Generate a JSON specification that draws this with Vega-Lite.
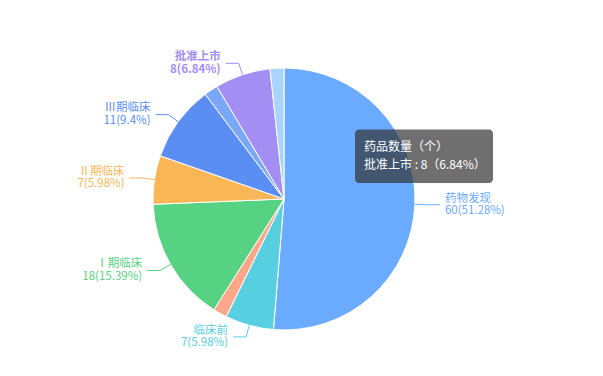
{
  "$schema": "https://vega.github.io/schema/vega-lite/v6.json",
  "width": 603,
  "height": 376,
  "padding": 0,
  "autosize": {"type": "none"},
  "background": "white",
  "config": {"view": {"stroke": null}, "font": "Noto Sans CJK SC"},
  "data": {
    "values": [
      {"idx": 1, "name": "药物发现", "value": 60, "pct": "51.28"},
      {"idx": 2, "name": "临床前", "value": 7, "pct": "5.98"},
      {"idx": 3, "name": "", "value": 2, "pct": "1.71"},
      {"idx": 4, "name": "Ⅰ期临床", "value": 18, "pct": "15.39"},
      {"idx": 5, "name": "Ⅱ期临床", "value": 7, "pct": "5.98"},
      {"idx": 6, "name": "Ⅲ期临床", "value": 11, "pct": "9.4"},
      {"idx": 7, "name": "", "value": 2, "pct": "1.71"},
      {"idx": 8, "name": "批准上市", "value": 8, "pct": "6.84"},
      {"idx": 9, "name": "", "value": 2, "pct": "1.71"}
    ]
  },
  "transform": [
    {"joinaggregate": [{"op": "sum", "field": "value", "as": "total"}]},
    {"window": [{"op": "sum", "field": "value", "as": "cum"}], "sort": [{"field": "idx"}], "frame": [null, 0]},
    {"calculate": "(datum.cum - datum.value/2)/datum.total*2*PI", "as": "mid"},
    {"calculate": "131*sin(datum.mid)", "as": "px"},
    {"calculate": "131*cos(datum.mid)", "as": "py"},
    {"calculate": "143*sin(datum.mid)", "as": "ex"},
    {"calculate": "143*cos(datum.mid)", "as": "ey"},
    {"calculate": "sin(datum.mid) >= 0 ? 1 : -1", "as": "side"},
    {"calculate": "datum.ex + datum.side*13", "as": "tx"},
    {"calculate": "datum.tx + datum.side*5", "as": "lx"},
    {"calculate": "datum.name + '\\n' + datum.value + '(' + datum.pct + '%)'", "as": "label"}
  ],
  "encoding": {
    "color": {
      "field": "idx",
      "type": "nominal",
      "scale": {
        "domain": [1, 2, 3, 4, 5, 6, 7, 8, 9],
        "range": ["#6aaaff", "#58cfe0", "#fda78a", "#57d283", "#f8b657", "#5b8ef2", "#7aa7f7", "#a38ef4", "#a8d4fd"]
      },
      "legend": null
    }
  },
  "layer": [
    {
      "mark": {"type": "arc", "outerRadius": 131, "stroke": "#ffffff", "strokeWidth": 1},
      "encoding": {
        "theta": {"field": "value", "type": "quantitative", "stack": true},
        "order": {"field": "idx", "type": "quantitative"},
        "x": {"datum": 0, "type": "quantitative", "scale": {"domain": [-284, 319], "nice": false, "zero": false}, "axis": null},
        "y": {"datum": 0, "type": "quantitative", "scale": {"domain": [-177, 199], "nice": false, "zero": false}, "axis": null}
      }
    },
    {
      "transform": [{"filter": "datum.name != ''"}],
      "mark": {"type": "rule", "strokeWidth": 1},
      "encoding": {
        "x": {"field": "px", "type": "quantitative"},
        "y": {"field": "py", "type": "quantitative"},
        "x2": {"field": "ex"},
        "y2": {"field": "ey"}
      }
    },
    {
      "transform": [{"filter": "datum.name != ''"}],
      "mark": {"type": "rule", "strokeWidth": 1},
      "encoding": {
        "x": {"field": "ex", "type": "quantitative"},
        "y": {"field": "ey", "type": "quantitative"},
        "x2": {"field": "tx"},
        "y2": {"field": "ey"}
      }
    },
    {
      "transform": [{"filter": "datum.name != '' && datum.side > 0"}],
      "mark": {"type": "text", "align": "left", "baseline": "middle", "dy": -6.25, "fontSize": 11.5, "lineHeight": 12.5, "lineBreak": "\n"},
      "encoding": {
        "x": {"field": "lx", "type": "quantitative"},
        "y": {"field": "ey", "type": "quantitative"},
        "text": {"field": "label"}
      }
    },
    {
      "transform": [{"filter": "datum.name != '' && datum.side < 0 && datum.name != '批准上市'"}],
      "mark": {"type": "text", "align": "right", "baseline": "middle", "dy": -6.25, "fontSize": 11.5, "lineHeight": 12.5, "lineBreak": "\n"},
      "encoding": {
        "x": {"field": "lx", "type": "quantitative"},
        "y": {"field": "ey", "type": "quantitative"},
        "text": {"field": "label"}
      }
    },
    {
      "transform": [{"filter": "datum.name == '批准上市'"}],
      "mark": {"type": "text", "align": "right", "baseline": "middle", "dy": -6.25, "fontSize": 11.5, "fontWeight": "bold", "lineHeight": 12.5, "lineBreak": "\n"},
      "encoding": {
        "x": {"field": "lx", "type": "quantitative"},
        "y": {"field": "ey", "type": "quantitative"},
        "text": {"field": "label"}
      }
    },
    {
      "data": {"values": [{"title": "药品数量（个）", "line": "批准上市 : 8（6.84%）"}]},
      "transform": [],
      "mark": {"type": "rect", "fill": "#323232", "fillOpacity": 0.7, "cornerRadius": 4},
      "encoding": {
        "color": {"value": "#323232"},
        "x": {"datum": 71, "type": "quantitative"},
        "x2": {"datum": 209},
        "y": {"datum": 69.5, "type": "quantitative"},
        "y2": {"datum": 16}
      }
    },
    {
      "data": {"values": [{"title": "药品数量（个）", "line": "批准上市 : 8（6.84%）"}]},
      "transform": [{"calculate": "datum.title + '\\n' + datum.line", "as": "tip"}],
      "mark": {"type": "text", "align": "left", "baseline": "middle", "fontSize": 12, "lineHeight": 17.7, "lineBreak": "\n", "fill": "#ffffff"},
      "encoding": {
        "color": {"value": "#ffffff"},
        "x": {"datum": 80, "type": "quantitative"},
        "y": {"datum": 51.7, "type": "quantitative"},
        "text": {"field": "tip"}
      }
    }
  ]
}
